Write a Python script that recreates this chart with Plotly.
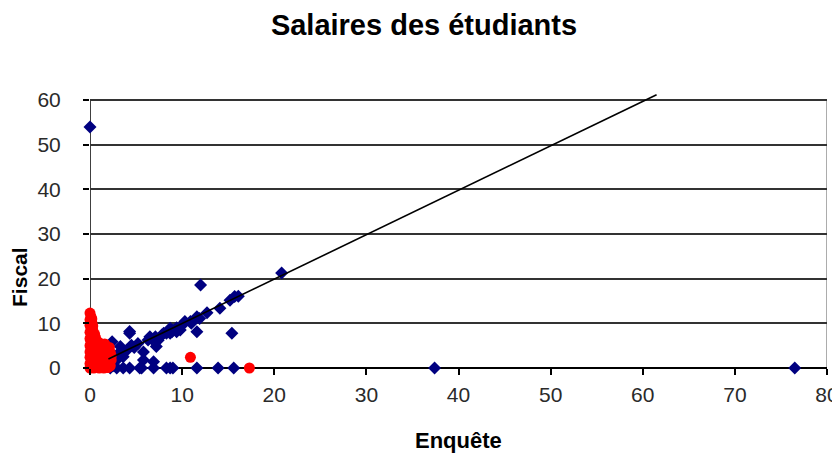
import plotly.graph_objects as go

# Salaires déclarés : enquête (x) contre fiscal (y)
blue_x = [0, 37.4, 76.5, 20.8, 12.0, 15.7, 16.1, 15.2, 14.1, 12.7, 11.9, 11.6, 11.0, 10.3,
          10.0, 10.9, 9.0, 8.7, 8.0, 9.8, 8.9, 8.3, 7.8, 7.1, 6.3, 5.2, 4.5, 4.0, 3.6, 3.1,
          3.3, 2.4, 4.3, 4.3, 11.6, 15.4, 5.8, 6.9, 5.8, 2.7, 2.2, 2.9, 2.5, 3.6, 4.8, 6.7,
          7.4, 9.4, 7.2, 6.5, 8.7, 9.4,
          2.2, 2.9, 3.6, 4.3, 5.4, 5.6, 6.9, 8.3, 8.7, 9.0, 11.6, 13.9, 15.6]
blue_y = [54, 0, 0, 21.3, 18.6, 16.0, 16.1, 15.2, 13.4, 12.4, 11.1, 11.5, 10.0, 10.4,
          9.6, 10.4, 8.5, 7.8, 7.8, 8.5, 8.1, 7.8, 7.4, 7.0, 6.3, 5.5, 5.1, 4.0, 3.6, 3.3,
          4.8, 5.9, 7.8, 8.2, 8.1, 7.8, 3.6, 1.4, 1.8, 2.6, 1.2, 1.8, 0.5, 2.5, 4.6, 6.5,
          6.2, 9.0, 4.8, 7.0, 8.9, 8.1,
          0, 0, 0, 0, 0, 0, 0, 0, 0, 0, 0, 0, 0]

red_x = [0, 0.1, 0, 0.2, 0, 0.1, 0.3, 0, 0.2, 0.4, 0, 0.1, 0.5, 0.3, 0.7, 0, 0.2, 0.9,
         1.2, 1.5, 1.8, 0.5, 0, 0.8, 1.3, 1.7, 0.3, 1.0, 0, 0.6, 1.4, 1.9, 0.2, 1.1, 0.8,
         1.6, 0, 0.4, 1.3, 1.8, 0.1, 0.7, 1.0, 0, 0.4, 1.5, 1.9, 0.6, 0.9, 0.5, 1.1, 1.7,
         1.4, 1.9, 2.0, 1.2, 0.4, 0.3, 0.5, 2.0, 0.8, 1.5, 0.2, 1.0,
         2.2, 2.3, 2.1, 2.2, 1.6, 2.3, 1.0, 0.7,
         10.9, 17.3]
red_y = [12.3, 11.5, 10.8, 10.2, 9.6, 9.0, 8.5, 8.0, 7.4, 7.0, 6.6, 6.0, 6.3, 5.5, 5.2,
         5.0, 4.5, 4.6, 4.4, 4.2, 3.9, 4.0, 3.6, 3.5, 3.4, 3.0, 3.0, 2.7, 2.4, 2.2, 2.3,
         2.0, 1.8, 1.6, 1.2, 1.3, 1.0, 0.8, 0.7, 0.5, 0.3, 0.2, 0, 0, 0, 0, 0.1, 6.8, 5.8,
         7.6, 4.9, 4.8,
         5.0, 3.2, 1.0, 2.9, 5.8, 9.4, 3.1, 0.2, 4.2, 1.9, 11.0, 5.5,
         3.5, 1.8, 4.6, 0.5, 5.4, 2.7, 4.0, 1.5,
         2.4, 0]

line_x = [2.0, 61.5]
line_y = [2.0, 61.2]

x_ticks = [0, 10, 20, 30, 40, 50, 60, 70, 80]
y_ticks = [0, 10, 20, 30, 40, 50, 60]

FONT = "Arial, Liberation Sans, sans-serif"

fig = go.Figure()
fig.add_trace(go.Scatter(
    x=blue_x, y=blue_y, mode="markers", cliponaxis=False,
    marker=dict(symbol="diamond", size=10, color="#000080", line=dict(width=0)),
    hoverinfo="skip", showlegend=False,
))
fig.add_trace(go.Scatter(
    x=red_x, y=red_y, mode="markers", cliponaxis=False,
    marker=dict(symbol="circle", size=11, color="#FF0000", line=dict(width=0)),
    hoverinfo="skip", showlegend=False,
))
fig.add_trace(go.Scatter(
    x=line_x, y=line_y, mode="lines",
    line=dict(color="black", width=1.6),
    hoverinfo="skip", showlegend=False,
))

# cadre : bord haut et droit gris, axe Y noir jusqu'à 60
fig.add_shape(type="line", xref="x", yref="y", x0=0, x1=80, y0=60, y1=60,
              line=dict(color="#909090", width=1.5), layer="below")
fig.add_shape(type="line", xref="x", yref="y", x0=80, x1=80, y0=0, y1=60,
              line=dict(color="#909090", width=1.5), layer="below")
fig.add_shape(type="line", xref="x", yref="y", x0=0, x1=0, y0=0, y1=60,
              line=dict(color="black", width=1.5), layer="below")

# la page a une marge de 8 px : figure un peu plus petite que la fenêtre
fig.update_layout(
    width=832, height=448,
    margin=dict(l=82, r=13, t=85, b=88, autoexpand=False),
    paper_bgcolor="white", plot_bgcolor="white",
    font=dict(family=FONT, color="#2a2a2a", size=21),
    title=dict(text="<b>Salaires des étudiants</b>", x=0.5, xanchor="center",
               y=0.962, yanchor="middle", font=dict(size=29, color="black")),
    xaxis=dict(
        range=[0, 80], tickvals=x_ticks, showgrid=False, zeroline=False, automargin=False,
        showline=False, ticks="outside", ticklen=6, tickcolor="black", tickwidth=1.5,
        ticklabelstandoff=2,
    ),
    yaxis=dict(
        range=[0, 61.6], tickvals=y_ticks, showgrid=True, gridcolor="#333333",
        gridwidth=1.5, zeroline=True, zerolinecolor="black", zerolinewidth=1.5,
        showline=False, ticks="outside", ticklen=6, tickcolor="black", tickwidth=1.5,
        ticklabelstandoff=18, automargin=False,
    ),
    annotations=[
        dict(text="<b>Enquête</b>", xref="paper", yref="paper", x=0.5, y=-0.262,
             xanchor="center", yanchor="middle", showarrow=False,
             font=dict(size=22, color="black")),
        dict(text="<b>Fiscal</b>", xref="paper", yref="paper", x=-0.095, y=0.331,
             xanchor="center", yanchor="middle", textangle=-90, showarrow=False,
             font=dict(size=21, color="black")),
    ],
)

fig.write_html("out.html")
